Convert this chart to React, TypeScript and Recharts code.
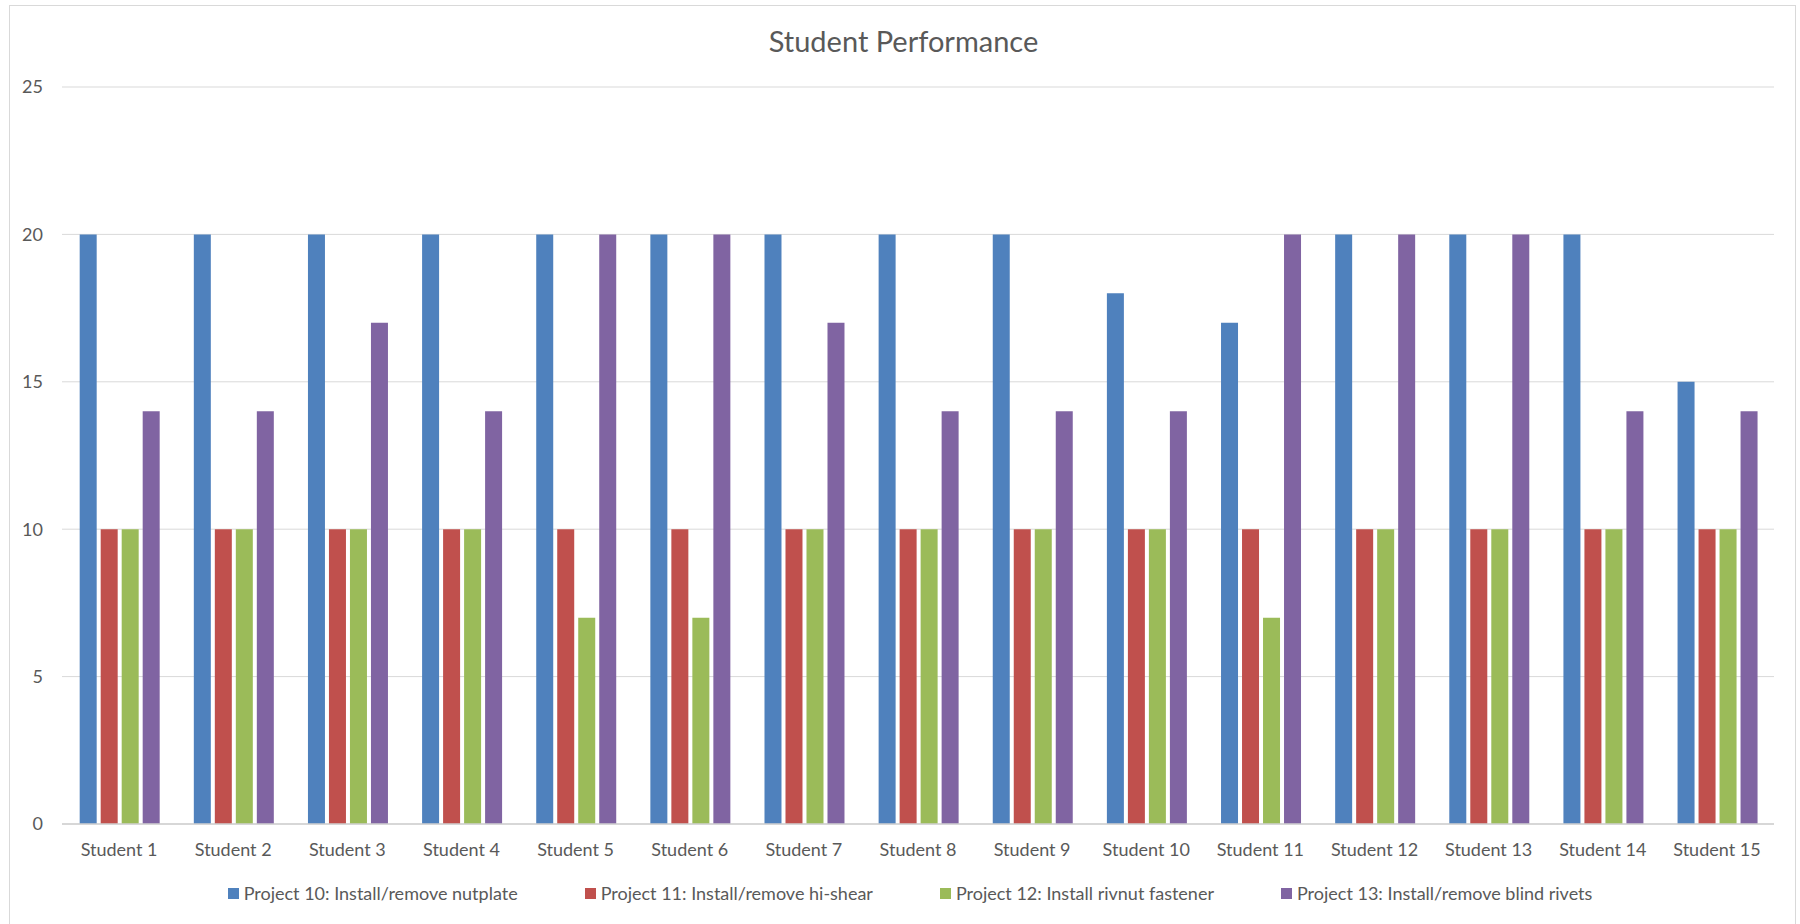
import React from 'react';
import { BarChart, Bar, XAxis, YAxis, CartesianGrid, Legend } from 'recharts';

const students = ['Student 1','Student 2','Student 3','Student 4','Student 5','Student 6','Student 7','Student 8','Student 9','Student 10','Student 11','Student 12','Student 13','Student 14','Student 15'];
const project10 = [20,20,20,20,20,20,20,20,20,18,17,20,20,20,15];
const project11 = [10,10,10,10,10,10,10,10,10,10,10,10,10,10,10];
const project12 = [10,10,10,10,7,7,10,10,10,10,7,10,10,10,10];
const project13 = [14,14,17,14,20,20,17,14,14,14,20,20,20,14,14];
const yTicks = [0,5,10,15,20,25];

const seriesNames = [
  'Project 10: Install/remove nutplate',
  'Project 11: Install/remove hi-shear',
  'Project 12: Install rivnut fastener',
  'Project 13: Install/remove blind rivets',
];
const colors = ['#4F81BD', '#C0504D', '#9BBB59', '#8064A2'];

const data = students.map((s, i) => ({
  name: s,
  p10: project10[i],
  p11: project11[i],
  p12: project12[i],
  p13: project13[i],
}));

const FONT = 'Lato, "Open Sans", sans-serif';

const LegendContent = (props: any) => {
  const { payload } = props;
  return (
    <div style={{ display: 'flex', justifyContent: 'center', gap: 67, fontFamily: FONT, fontSize: 18, color: '#595959' }}>
      {(payload || []).map((p: any) => (
        <div key={p.value} style={{ display: 'flex', alignItems: 'center' }}>
          <span style={{ display: 'inline-block', width: 11, height: 11, background: p.color, marginRight: 5 }} />
          <span>{p.value}</span>
        </div>
      ))}
    </div>
  );
};

export default function App() {
  return (
    <div style={{ position: 'absolute', left: 0, top: 0, width: 1800, height: 924, background: '#fff', overflow: 'hidden' }}>
      <div style={{ position: 'absolute', left: 9, top: 5, width: 1787, height: 940, border: '1px solid #d9d9d9', boxSizing: 'border-box' }} />
      <div style={{ position: 'absolute', left: 0, top: 23, width: 1807, textAlign: 'center', fontFamily: FONT, fontSize: 29, color: '#595959', lineHeight: '36px' }}>
        Student Performance
      </div>
      <div style={{ position: 'absolute', left: 0, top: 0 }}>
        <BarChart
          width={1800}
          height={924}
          data={data}
          margin={{ top: 87, right: 26, bottom: 60, left: 0 }}
          barCategoryGap="15.5%"
          barGap={4}
        >
          <CartesianGrid vertical={false} stroke="#d9d9d9" />
          <XAxis
            dataKey="name"
            height={40}
            tickLine={false}
            tickSize={6}
            tickMargin={13}
            axisLine={{ stroke: '#d0d0d0', strokeWidth: 1.5 }}
            tick={{ fill: '#595959', fontSize: 18, fontFamily: FONT }}
            interval={0}
          />
          <YAxis
            width={62}
            domain={[0, 25]}
            ticks={yTicks}
            tickLine={false}
            axisLine={false}
            tickSize={6}
            tickMargin={13}
            tick={{ fill: '#595959', fontSize: 18, fontFamily: FONT }}
          />
          <Legend
            layout="horizontal"
            verticalAlign="middle"
            align="center"
            wrapperStyle={{ top: 882, left: 0, width: 1820 }}
            content={<LegendContent />}
          />
          <Bar dataKey="p10" name={seriesNames[0]} fill={colors[0]} isAnimationActive={false} />
          <Bar dataKey="p11" name={seriesNames[1]} fill={colors[1]} isAnimationActive={false} />
          <Bar dataKey="p12" name={seriesNames[2]} fill={colors[2]} isAnimationActive={false} />
          <Bar dataKey="p13" name={seriesNames[3]} fill={colors[3]} isAnimationActive={false} />
        </BarChart>
      </div>
    </div>
  );
}
